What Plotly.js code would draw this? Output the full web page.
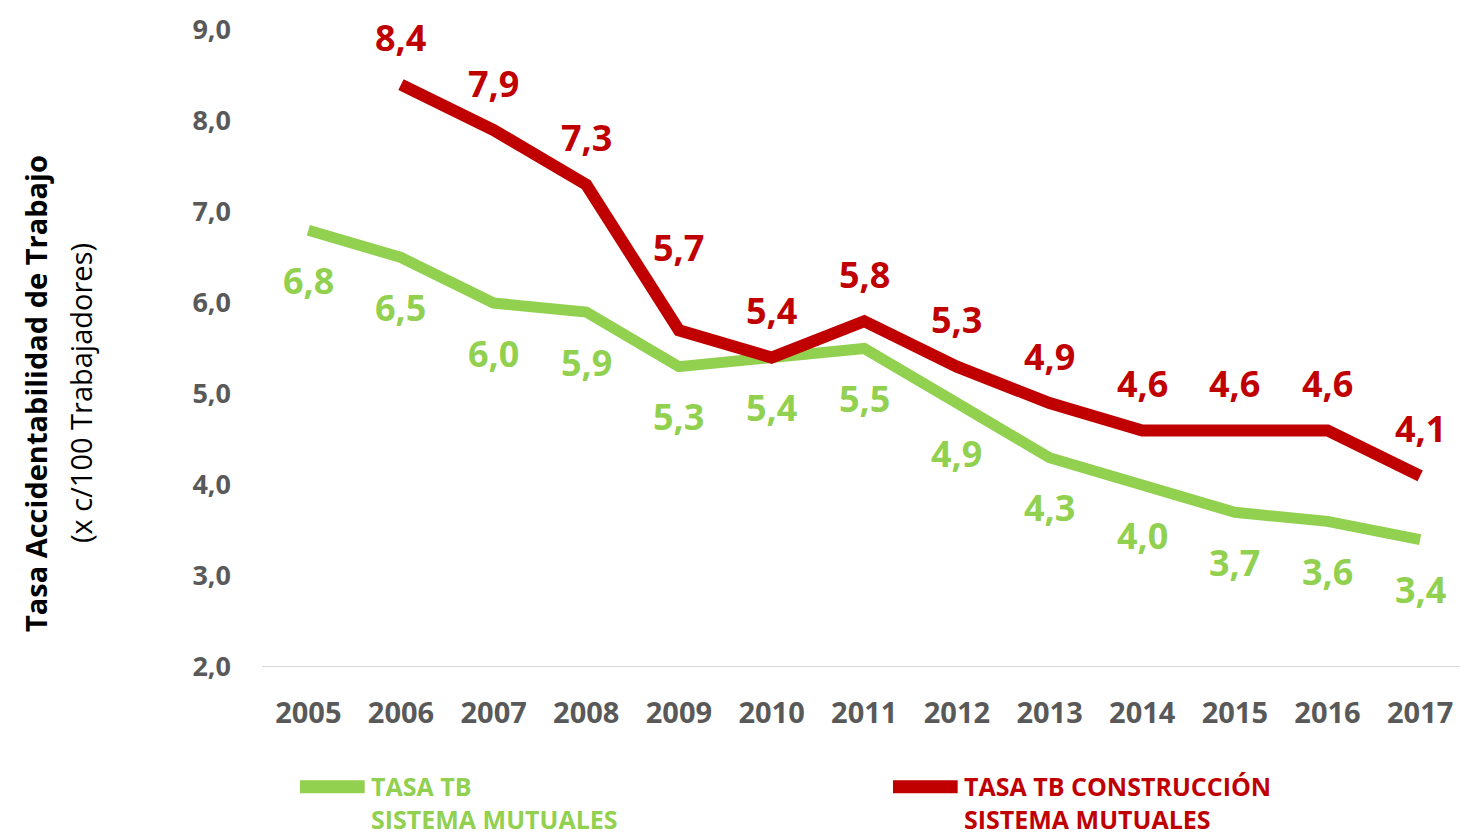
<!DOCTYPE html>
<html lang="es">
<head>
<meta charset="UTF-8">
<title>Tasa Accidentabilidad de Trabajo</title>
<script src="https://cdn.plot.ly/plotly-3.0.1.min.js"></script>
<style>
    body { margin: 0; background: #fff; }
    #chart { width: 1461px; height: 836px; }
</style>
</head>
<body>
<div id="chart"></div>
<script>
    // datos
    var years = ['2005', '2006', '2007', '2008', '2009', '2010', '2011', '2012', '2013', '2014', '2015', '2016', '2017'];
    var tasaMutuales = [6.8, 6.5, 6.0, 5.9, 5.3, 5.4, 5.5, 4.9, 4.3, 4.0, 3.7, 3.6, 3.4];
    var tasaConstruccion = [null, 8.4, 7.9, 7.3, 5.7, 5.4, 5.8, 5.3, 4.9, 4.6, 4.6, 4.6, 4.1];
    var yTicks = [2, 3, 4, 5, 6, 7, 8, 9];
    var legendNames = ['TASA TB<br>SISTEMA MUTUALES', 'TASA TB CONSTRUCCIÓN<br>SISTEMA MUTUALES'];

    var GREEN = '#92d050';
    var RED = '#c00000';
    var FONT = '"Open Sans", sans-serif';

    function fmt(v) {
        return v.toFixed(1).replace('.', ',');
    }

    var traces = [
        {
            x: years, y: tasaMutuales, type: 'scatter', mode: 'lines',
            line: {color: GREEN, width: 11}, hoverinfo: 'skip'
        },
        {
            x: years, y: tasaConstruccion, type: 'scatter', mode: 'lines',
            line: {color: RED, width: 12}, hoverinfo: 'skip'
        }
    ];

    var annotations = [];
    years.forEach(function (yr, i) {
        annotations.push({
            x: i, y: tasaMutuales[i], xref: 'x', yref: 'y',
            text: '<b>' + fmt(tasaMutuales[i]) + '</b>',
            showarrow: false, yshift: -50, xanchor: 'center', yanchor: 'middle',
            font: {family: FONT, size: 36, color: GREEN}
        });
        if (tasaConstruccion[i] !== null) {
            // la etiqueta de 2009 esta desplazada mas arriba en el original
            annotations.push({
                x: i, y: tasaConstruccion[i], xref: 'x', yref: 'y',
                text: '<b>' + fmt(tasaConstruccion[i]) + '</b>',
                showarrow: false, yshift: yr === '2009' ? 83 : 47,
                xanchor: 'center', yanchor: 'middle',
                font: {family: FONT, size: 36, color: RED}
            });
        }
    });

    // titulo del eje y (dos lineas con estilos distintos)
    annotations.push({
        xref: 'paper', yref: 'paper', x: -0.1895, y: 0.43, textangle: -90,
        xanchor: 'center', yanchor: 'middle',
        text: '<b>Tasa Accidentabilidad de Trabajo</b>', showarrow: false,
        font: {family: FONT, size: 29, color: '#000'}
    });
    annotations.push({
        xref: 'paper', yref: 'paper', x: -0.152, y: 0.43, textangle: -90,
        xanchor: 'center', yanchor: 'middle',
        text: '(x c/100 Trabajadores)', showarrow: false,
        font: {family: FONT, size: 29, color: '#000'}
    });

    // leyenda manual abajo
    var legendX = [0.0317, 0.5267];
    var legendColors = [GREEN, RED];
    var shapes = [];
    legendNames.forEach(function (name, i) {
        shapes.push({
            type: 'line', xref: 'paper', yref: 'paper',
            x0: legendX[i], x1: legendX[i] + 0.054, y0: -0.188, y1: -0.188,
            line: {color: legendColors[i], width: 13}
        });
        annotations.push({
            xref: 'paper', yref: 'paper', x: legendX[i] + 0.0575, y: -0.157,
            xanchor: 'left', yanchor: 'top', align: 'left', showarrow: false,
            text: '<b>' + name + '</b>',
            font: {family: FONT, size: 25, color: legendColors[i]}
        });
    });

    var layout = {
        width: 1461, height: 836,
        margin: {l: 262, r: 1, t: 30, b: 169},
        paper_bgcolor: '#fff', plot_bgcolor: '#fff',
        showlegend: false,
        xaxis: {
            type: 'category', range: [-0.5, 12.43],
            showgrid: false, zeroline: false,
            showline: false, ticks: '',
            tickfont: {family: FONT, size: 29, color: '#595959', weight: 700},
            ticklabelstandoff: 26
        },
        yaxis: {
            range: [2, 9], tickvals: yTicks, ticktext: yTicks.map(fmt),
            showgrid: false, zeroline: false, showline: false, ticks: '',
            tickfont: {family: FONT, size: 27, color: '#595959', weight: 700},
            ticklabelstandoff: 30
        },
        shapes: shapes.concat([{
            type: 'line', xref: 'paper', yref: 'y', x0: 0, x1: 1, y0: 2, y1: 2,
            line: {color: '#d9d9d9', width: 2}, layer: 'below'
        }]),
        annotations: annotations
    };

    Plotly.newPlot('chart', traces, layout, {displayModeBar: false, staticPlot: true});
</script>
</body>
</html>
